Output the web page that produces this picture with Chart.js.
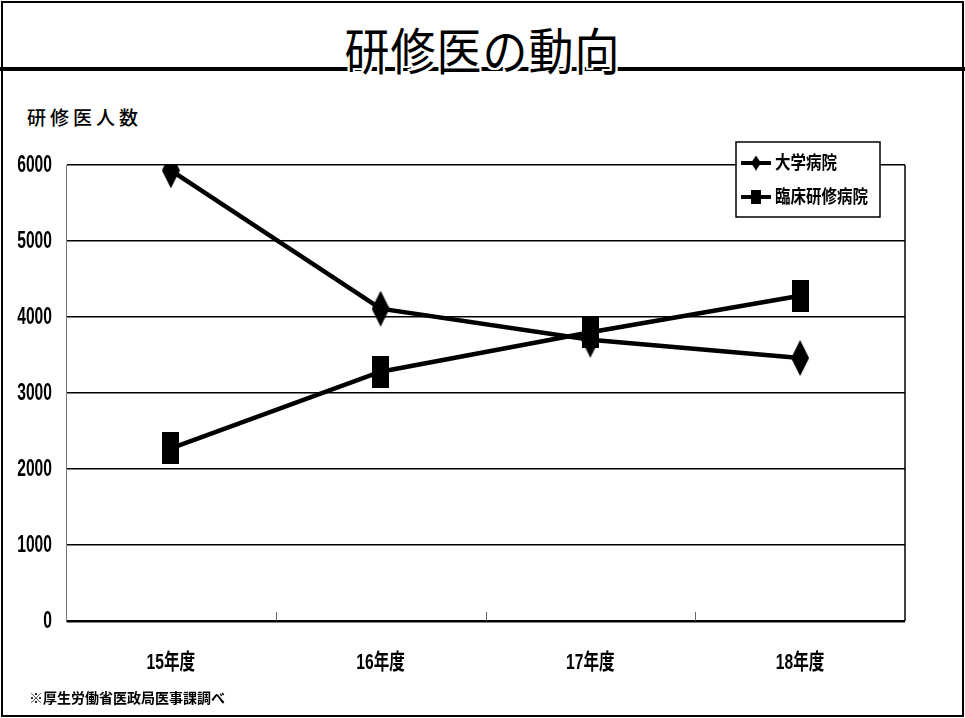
<!DOCTYPE html>
<html lang="ja">
<head>
<meta charset="utf-8">
<title>研修医の動向</title>
<script src="https://cdn.jsdelivr.net/npm/chart.js@4.4.1/dist/chart.umd.min.js"></script>
<style>
  html, body { margin: 0; padding: 0; background: #fff; }
  #page {
    position: relative; width: 965px; height: 718px; overflow: hidden;
    font-family: 'Noto Sans CJK JP', sans-serif; color: #000;
  }
  #frame {
    position: absolute; left: 1px; top: 1px; width: 959px; height: 712px;
    border: 2px solid #000;
  }
  #rule {
    position: absolute; left: 0; top: 67px; width: 965px; height: 4px; background: #000;
  }
  #title {
    position: absolute; left: 0; width: 965px; top: 22px; margin: 0;
    text-align: center; font-size: 45px; font-weight: 400; letter-spacing: 1px;
    line-height: 54px; color: #000;
    transform: scaleY(1.1);
    text-shadow: 2px 0 0 #fff, -2px 0 0 #fff, 0 2px 0 #fff, 0 -2px 0 #fff,
                 2px 2px 0 #fff, -2px -2px 0 #fff, 2px -2px 0 #fff, -2px 2px 0 #fff;
  }
  #ylabel {
    position: absolute; left: 27px; top: 103px; font-size: 19px; font-weight: 500; letter-spacing: 4px;
  }
  #note {
    position: absolute; left: 29px; top: 687px; font-size: 14px; font-weight: 700;
  }
  #chart { position: absolute; left: 0; top: 140px; }
</style>
</head>
<body>
<div id="page">
  <div id="frame"></div>
  <div id="rule"></div>
  <h1 id="title">研修医の動向</h1>
  <div id="ylabel">研修医人数</div>
  <canvas id="chart" width="965" height="550"></canvas>
  <div id="note">※厚生労働省医政局医事課調べ</div>
</div>
<script>
// categories and series
const years = ['15年度', '16年度', '17年度', '18年度'];
const univHospital = [5930, 4110, 3700, 3460];
const trainingHospital = [2270, 3280, 3800, 4280];
const seriesNames = ['大学病院', '臨床研修病院'];
const yMin = 0;
const yMax = 6000;
const yStep = 1000;

const labelFont = "'Liberation Sans', 'Noto Sans CJK JP', sans-serif";

// tall marker shapes
function makeDiamond(w, h) {
    const c = document.createElement('canvas');
    c.width = w; c.height = h;
    const ctx = c.getContext('2d');
    ctx.fillStyle = '#000';
    ctx.beginPath();
    ctx.moveTo(w / 2, 0);
    ctx.lineTo(w, h / 2);
    ctx.lineTo(w / 2, h);
    ctx.lineTo(0, h / 2);
    ctx.closePath();
    ctx.fill();
    return c;
}

function makeBlock(w, h) {
    const c = document.createElement('canvas');
    c.width = w; c.height = h;
    const ctx = c.getContext('2d');
    ctx.fillStyle = '#000';
    ctx.fillRect(0, 0, w, h);
    return c;
}

const diamond = makeDiamond(18, 36);
const block = makeBlock(17, 32);
const legendDiamond = makeDiamond(10, 15);
const legendBlock = makeBlock(10, 14);

// narrow text: squeeze horizontally around the anchor point
function narrowText(ctx, text, x, y, squeeze) {
    ctx.save();
    ctx.translate(x, y);
    ctx.scale(squeeze, 1);
    ctx.fillText(text, 0, 0);
    ctx.restore();
}

// condensed tick labels, placed with the chart's own scales
const tickLabelPlugin = {
    id: 'tickLabelPlugin',
    afterDraw(chart) {
        const ctx = chart.ctx;
        const xs = chart.scales.x;
        const ys = chart.scales.y;
        ctx.save();
        ctx.fillStyle = '#000';
        ctx.font = 'bold 23px ' + labelFont;
        ctx.textAlign = 'right';
        ctx.textBaseline = 'middle';
        ys.ticks.forEach(t => {
            narrowText(ctx, String(t.value), ys.right - 14, ys.getPixelForValue(t.value) + 1, 0.68);
        });
        ctx.font = 'bold 22px ' + labelFont;
        ctx.textAlign = 'center';
        xs.ticks.forEach(t => {
            narrowText(ctx, chart.data.labels[t.value], xs.getPixelForValue(t.value), chart.chartArea.bottom + 42, 0.71);
        });
        ctx.restore();
    }
};

// plot frame, small category ticks and the boxed legend
const framePlugin = {
    id: 'framePlugin',
    afterDatasetsDraw(chart) {
        const ctx = chart.ctx;
        const area = chart.chartArea;
        const x = chart.scales.x;
        ctx.save();
        ctx.strokeStyle = '#000';
        ctx.lineWidth = 1.5;
        ctx.beginPath();
        ctx.moveTo(area.right, area.top);
        ctx.lineTo(area.right, area.bottom);
        ctx.stroke();

        ctx.strokeStyle = '#666';
        ctx.lineWidth = 1;
        for (let i = 1; i < years.length; i++) {
            const px = Math.round((x.getPixelForValue(i - 1) + x.getPixelForValue(i)) / 2) + 0.5;
            ctx.beginPath();
            ctx.moveTo(px, area.bottom);
            ctx.lineTo(px, area.bottom - 9);
            ctx.stroke();
        }
        ctx.restore();
    },
    afterDraw(chart) {
        const ctx = chart.ctx;
        const area = chart.chartArea;
        const bx = area.right - 169;
        const by = area.top - 23;
        const bw = 144;
        const bh = 75;
        ctx.save();
        ctx.fillStyle = '#fff';
        ctx.fillRect(bx, by, bw, bh);
        ctx.strokeStyle = '#000';
        ctx.lineWidth = 1.5;
        ctx.strokeRect(bx, by, bw, bh);

        const icons = [legendDiamond, legendBlock];
        ctx.font = 'bold 18px ' + labelFont;
        ctx.textBaseline = 'middle';
        ctx.fillStyle = '#000';
        chart.data.datasets.forEach((ds, i) => {
            const cy = by + 21 + i * 34;
            ctx.lineWidth = 4;
            ctx.beginPath();
            ctx.moveTo(bx + 5, cy);
            ctx.lineTo(bx + 35, cy);
            ctx.stroke();
            const img = icons[i];
            ctx.drawImage(img, bx + 20 - img.width / 2, cy - img.height / 2);
            narrowText(ctx, ds.label, bx + 39, cy + 1, 0.86);
        });
        ctx.restore();
    }
};

new Chart(document.getElementById('chart'), {
    type: 'line',
    data: {
        labels: years,
        datasets: [{
            label: seriesNames[0],
            data: univHospital,
            borderColor: '#000',
            borderWidth: 4.5,
            pointStyle: diamond,
            tension: 0
        }, {
            label: seriesNames[1],
            data: trainingHospital,
            borderColor: '#000',
            borderWidth: 4.5,
            pointStyle: block,
            tension: 0
        }]
    },
    options: {
        responsive: false,
        animation: false,
        devicePixelRatio: 1,
        layout: { padding: { left: 0, right: 60, top: 25, bottom: 0 } },
        plugins: {
            legend: { display: false },
            tooltip: { enabled: false }
        },
        scales: {
            x: {
                offset: true,
                afterFit(scale) { scale.height = 69; },
                grid: { display: false },
                border: { display: false },
                ticks: { display: false }
            },
            y: {
                min: yMin,
                max: yMax,
                afterFit(scale) { scale.width = 66; },
                border: { display: true, color: '#777', width: 1 },
                grid: {
                    drawTicks: false,
                    color: '#000',
                    lineWidth: ctx => ctx.tick && ctx.tick.value === yMin ? 2.5 : 1.5
                },
                ticks: { stepSize: yStep, display: false }
            }
        }
    },
    plugins: [framePlugin, tickLabelPlugin]
});
</script>
</body>
</html>
